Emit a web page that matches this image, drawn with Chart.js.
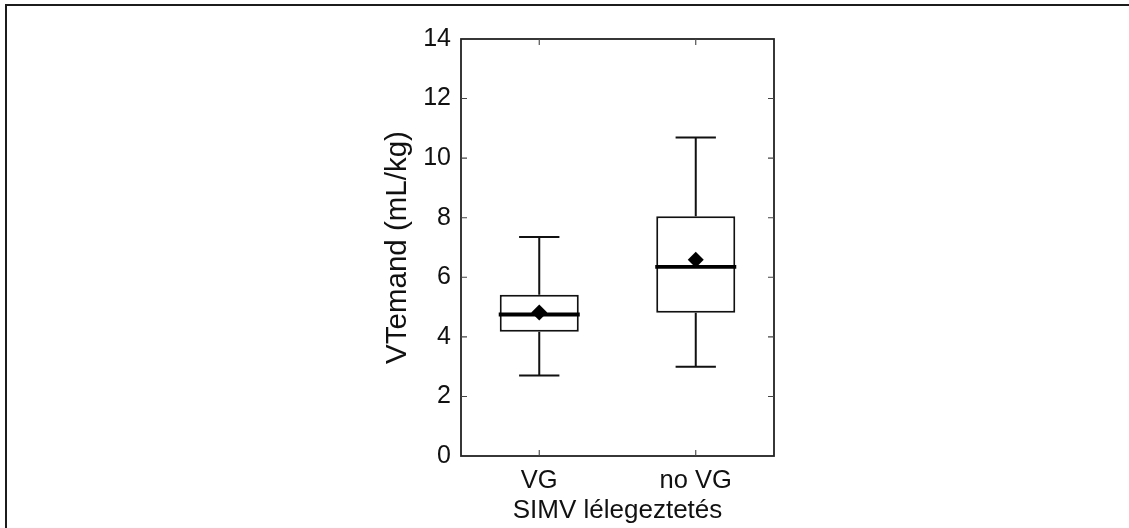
<!DOCTYPE html>
<html>
<head>
<meta charset="utf-8">
<script src="https://cdn.jsdelivr.net/npm/chart.js@4.4.1/dist/chart.umd.min.js"></script>
<style>
  html, body { margin: 0; padding: 0; background: #fff; }
  #wrap { position: relative; width: 1129px; height: 528px; overflow: hidden; }
  #frame { position: absolute; left: 5px; top: 4px; width: 2000px; height: 2000px;
           border-left: 2px solid #1c1c1c; border-top: 2px solid #1c1c1c; pointer-events: none; }
  canvas { position: absolute; left: 0; top: 0; }
</style>
</head>
<body>
<div id="wrap">
  <canvas id="c" width="1129" height="528"></canvas>
  <div id="frame"></div>
</div>
<script>
const categories = ['VG', 'no VG'];
const whiskerLow  = [2.70, 3.00];
const q1          = [4.17, 4.81];
const median      = [4.75, 6.35];
const q3          = [5.41, 8.05];
const whiskerHigh = [7.35, 10.69];
const mean        = [4.82, 6.59];
const yTicks = [0, 2, 4, 6, 8, 10, 12, 14];
const xTitle = 'SIMV lélegeztetés';
const yTitle = 'VTemand (mL/kg)';

const FONT = '"Liberation Sans", Arial, sans-serif';
const INK = '#111';

const boxPlugin = {
  id: 'boxExtras',
  afterDatasetsDraw(chart) {
    const ctx = chart.ctx;
    const xs = chart.scales.x, ys = chart.scales.y;
    const meta = chart.getDatasetMeta(0);
    ctx.save();
    ctx.strokeStyle = INK;
    categories.forEach((c, i) => {
      const bar = meta.data[i];
      const cx = xs.getPixelForValue(i);
      const bw = bar.width;
      const capHalf = bw * 0.255;
      ctx.lineWidth = 2;
      ctx.beginPath();
      ctx.moveTo(cx, ys.getPixelForValue(q3[i]));
      ctx.lineTo(cx, ys.getPixelForValue(whiskerHigh[i]));
      ctx.moveTo(cx, ys.getPixelForValue(q1[i]));
      ctx.lineTo(cx, ys.getPixelForValue(whiskerLow[i]));
      ctx.moveTo(cx - capHalf, ys.getPixelForValue(whiskerHigh[i]));
      ctx.lineTo(cx + capHalf, ys.getPixelForValue(whiskerHigh[i]));
      ctx.moveTo(cx - capHalf, ys.getPixelForValue(whiskerLow[i]));
      ctx.lineTo(cx + capHalf, ys.getPixelForValue(whiskerLow[i]));
      ctx.stroke();
      ctx.lineWidth = 3.8;
      ctx.strokeStyle = '#000';
      ctx.beginPath();
      ctx.moveTo(cx - bw / 2 - 1, ys.getPixelForValue(median[i]));
      ctx.lineTo(cx + bw / 2 + 1, ys.getPixelForValue(median[i]));
      ctx.stroke();
      ctx.strokeStyle = INK;
    });
    ctx.restore();
  },
  afterDraw(chart) {
    const ctx = chart.ctx;
    const a = chart.chartArea;
    const xs = chart.scales.x, ys = chart.scales.y;
    ctx.save();
    ctx.strokeStyle = '#222';
    ctx.lineWidth = 1.8;
    ctx.strokeRect(a.left, a.top, a.right - a.left, a.bottom - a.top);
    ctx.lineWidth = 1.1;
    ctx.strokeStyle = '#444';
    ctx.beginPath();
    yTicks.forEach(v => {
      const y = ys.getPixelForValue(v);
      if (v === yTicks[0] || v === yTicks[yTicks.length - 1]) return;
      ctx.moveTo(a.left, y); ctx.lineTo(a.left + 6, y);
      ctx.moveTo(a.right, y); ctx.lineTo(a.right - 6, y);
    });
    categories.forEach((c, i) => {
      const x = xs.getPixelForValue(i);
      ctx.moveTo(x, a.bottom); ctx.lineTo(x, a.bottom - 6);
      ctx.moveTo(x, a.top); ctx.lineTo(x, a.top + 6);
    });
    ctx.stroke();
    ctx.restore();
  }
};

new Chart(document.getElementById('c'), {
  data: {
    labels: categories,
    datasets: [
      {
        type: 'bar',
        data: categories.map((c, i) => [q1[i], q3[i]]),
        backgroundColor: '#fff',
        borderColor: INK,
        borderWidth: 2,
        borderSkipped: false,
        categoryPercentage: 1.0,
        barPercentage: 0.505,
        order: 2
      },
      {
        type: 'line',
        data: mean,
        showLine: false,
        pointStyle: 'rectRot',
        pointRadius: 8,
        pointBackgroundColor: '#000',
        pointBorderColor: '#000',
        pointBorderWidth: 0,
        order: 1
      }
    ]
  },
  plugins: [boxPlugin],
  options: {
    responsive: false,
    animation: false,
    events: [],
    layout: { padding: { left: 370, right: 355, top: 39, bottom: 0 } },
    plugins: { legend: { display: false }, tooltip: { enabled: false } },
    scales: {
      x: {
        type: 'category',
        offset: true,
        grid: { display: false, drawTicks: false },
        border: { display: false },
        ticks: { color: '#111', padding: 10, font: { family: FONT, size: 25.5 } },
        title: { display: true, text: xTitle, color: '#111', padding: { top: 0, bottom: 2 },
                 font: { family: FONT, size: 26 } },
        afterFit(s) { s.height = 72; }
      },
      y: {
        min: 0, max: 14,
        afterBuildTicks(s) { s.ticks = yTicks.map(v => ({ value: v })); },
        grid: { display: false, drawTicks: false },
        border: { display: false },
        ticks: { color: '#111', padding: 10, font: { family: FONT, size: 25 } },
        title: { display: true, text: yTitle, color: '#111', padding: { top: 10, bottom: 0 },
                 font: { family: FONT, size: 29.5 } },
        afterFit(s) { s.width = 91; }
      }
    }
  }
});
</script>
</body>
</html>
